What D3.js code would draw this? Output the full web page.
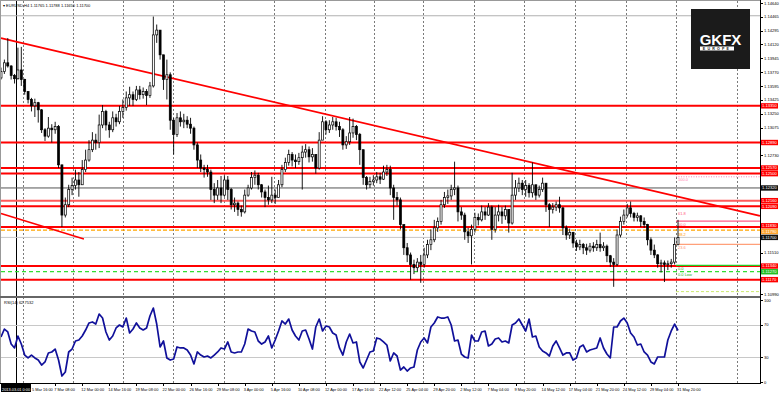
<!DOCTYPE html>
<meta charset="utf-8">
<style>
  body { margin: 0; background: #fff; }
  svg { display: block; font-family: 'Liberation Sans', Arial, sans-serif; }
</style>
<script src="https://d3js.org/d3.v7.min.js"></script>
<body>
<svg id="chart" width="780" height="395"></svg>
<script>
// EURUSD H4, one candle per 8 hours (2 H4 bars)
var firstOpen = 1.1370;
var closes = [
  1.1378, 1.1389, 1.1385, 1.1373, 1.1369, 1.1380, 1.1368, 1.1353, 1.1343, 1.1335,
  1.1339, 1.1330, 1.1305, 1.1297, 1.1307, 1.1305, 1.1309, 1.1261, 1.1198, 1.1211,
  1.1230, 1.1235, 1.1242, 1.1236, 1.1255, 1.1267, 1.1280, 1.1292, 1.1289, 1.1311,
  1.1328, 1.1311, 1.1305, 1.1320, 1.1315, 1.1328, 1.1333, 1.1345, 1.1349, 1.1343,
  1.1355, 1.1349, 1.1353, 1.1348, 1.1360, 1.1424, 1.1430, 1.1399, 1.1368, 1.1374,
  1.1317, 1.1299, 1.1320, 1.1315, 1.1317, 1.1312, 1.1307, 1.1286, 1.1267, 1.1257,
  1.1255, 1.1252, 1.1230, 1.1223, 1.1232, 1.1223, 1.1242, 1.1230, 1.1211, 1.1213,
  1.1205, 1.1202, 1.1223, 1.1232, 1.1245, 1.1248, 1.1236, 1.1227, 1.1220, 1.1217,
  1.1223, 1.1220, 1.1236, 1.1255, 1.1264, 1.1274, 1.1267, 1.1265, 1.1270, 1.1277,
  1.1280, 1.1271, 1.1274, 1.1257, 1.1292, 1.1315, 1.1305, 1.1311, 1.1315, 1.1309,
  1.1305, 1.1286, 1.1290, 1.1301, 1.1309, 1.1299, 1.1280, 1.1245, 1.1236, 1.1240,
  1.1242, 1.1246, 1.1243, 1.1252, 1.1255, 1.1232, 1.1220, 1.1217, 1.1186, 1.1157,
  1.1148, 1.1136, 1.1132, 1.1139, 1.1136, 1.1148, 1.1161, 1.1167, 1.1182, 1.1190,
  1.1211, 1.1220, 1.1222, 1.1230, 1.1232, 1.1202, 1.1198, 1.1177, 1.1172, 1.1180,
  1.1195, 1.1192, 1.1202, 1.1198, 1.1208, 1.1180, 1.1198, 1.1202, 1.1197, 1.1205,
  1.1188, 1.1223, 1.1232, 1.1238, 1.1230, 1.1235, 1.1226, 1.1236, 1.1223, 1.1230,
  1.1238, 1.1211, 1.1205, 1.1208, 1.1211, 1.1207, 1.1182, 1.1173, 1.1176, 1.1163,
  1.1158, 1.1161, 1.1157, 1.1154, 1.1159, 1.1157, 1.1161, 1.1157, 1.1159, 1.1147,
  1.1139, 1.1136, 1.1173, 1.1190, 1.1198, 1.1207, 1.1200, 1.1195, 1.1197, 1.1190,
  1.1186, 1.1167, 1.1154, 1.1148, 1.1137, 1.1138, 1.1136, 1.1137, 1.1139, 1.1161, 1.1170
];
var highs = [
  1.1383, 1.1393, 1.1420, 1.1386, 1.1375, 1.1408, 1.1409, 1.1369, 1.1353, 1.1345,
  1.1344, 1.1340, 1.1331, 1.1307, 1.1321, 1.1312, 1.1315, 1.1311, 1.1261, 1.1220,
  1.1236, 1.1245, 1.1255, 1.1252, 1.1267, 1.1280, 1.1292, 1.1302, 1.1300, 1.1324,
  1.1336, 1.1330, 1.1315, 1.1328, 1.1325, 1.1335, 1.1343, 1.1353, 1.1359, 1.1353,
  1.1360, 1.1360, 1.1358, 1.1356, 1.1365, 1.1447, 1.1437, 1.1430, 1.1399, 1.1393,
  1.1377, 1.1320, 1.1326, 1.1328, 1.1325, 1.1322, 1.1320, 1.1309, 1.1289, 1.1274,
  1.1261, 1.1261, 1.1255, 1.1238, 1.1242, 1.1247, 1.1248, 1.1247, 1.1232, 1.1220,
  1.1215, 1.1210, 1.1230, 1.1236, 1.1252, 1.1254, 1.1251, 1.1237, 1.1230, 1.1235,
  1.1246, 1.1230, 1.1242, 1.1261, 1.1270, 1.1280, 1.1277, 1.1274, 1.1276, 1.1285,
  1.1287, 1.1284, 1.1282, 1.1274, 1.1302, 1.1322, 1.1317, 1.1317, 1.1321, 1.1320,
  1.1315, 1.1307, 1.1297, 1.1321, 1.1319, 1.1311, 1.1301, 1.1280, 1.1247, 1.1246,
  1.1248, 1.1252, 1.1251, 1.1260, 1.1261, 1.1260, 1.1236, 1.1227, 1.1220, 1.1186,
  1.1163, 1.1151, 1.1142, 1.1144, 1.1148, 1.1157, 1.1167, 1.1180, 1.1192, 1.1195,
  1.1217, 1.1227, 1.1230, 1.1236, 1.1265, 1.1235, 1.1208, 1.1201, 1.1182, 1.1186,
  1.1201, 1.1200, 1.1210, 1.1208, 1.1213, 1.1210, 1.1208, 1.1211, 1.1208, 1.1210,
  1.1205, 1.1251, 1.1242, 1.1245, 1.1242, 1.1242, 1.1238, 1.1264, 1.1236, 1.1235,
  1.1245, 1.1238, 1.1213, 1.1213, 1.1215, 1.1221, 1.1208, 1.1185, 1.1181, 1.1177,
  1.1167, 1.1167, 1.1163, 1.1162, 1.1163, 1.1164, 1.1167, 1.1176, 1.1164, 1.1161,
  1.1148, 1.1144, 1.1180, 1.1196, 1.1205, 1.1212, 1.1215, 1.1202, 1.1201, 1.1198,
  1.1195, 1.1187, 1.1170, 1.1161, 1.1149, 1.1142, 1.1141, 1.1141, 1.1143, 1.1170, 1.1192
];
var lows = [
  1.1368, 1.1375, 1.1383, 1.1368, 1.1363, 1.1368, 1.1360, 1.1349, 1.1338, 1.1328,
  1.1321, 1.1314, 1.1301, 1.1291, 1.1295, 1.1289, 1.1300, 1.1257, 1.1183, 1.1195,
  1.1208, 1.1223, 1.1230, 1.1221, 1.1242, 1.1252, 1.1265, 1.1277, 1.1280, 1.1282,
  1.1307, 1.1304, 1.1295, 1.1302, 1.1309, 1.1312, 1.1320, 1.1329, 1.1335, 1.1335,
  1.1341, 1.1343, 1.1344, 1.1336, 1.1345, 1.1358, 1.1414, 1.1393, 1.1355, 1.1343,
  1.1305, 1.1274, 1.1296, 1.1309, 1.1307, 1.1307, 1.1300, 1.1280, 1.1257, 1.1252,
  1.1245, 1.1246, 1.1217, 1.1213, 1.1217, 1.1213, 1.1221, 1.1217, 1.1205, 1.1202,
  1.1197, 1.1196, 1.1200, 1.1221, 1.1230, 1.1236, 1.1230, 1.1220, 1.1208, 1.1211,
  1.1213, 1.1212, 1.1220, 1.1233, 1.1252, 1.1260, 1.1259, 1.1257, 1.1261, 1.1230,
  1.1270, 1.1264, 1.1265, 1.1250, 1.1255, 1.1292, 1.1299, 1.1301, 1.1305, 1.1304,
  1.1296, 1.1280, 1.1281, 1.1286, 1.1295, 1.1292, 1.1261, 1.1236, 1.1230, 1.1232,
  1.1235, 1.1238, 1.1237, 1.1242, 1.1247, 1.1223, 1.1192, 1.1210, 1.1180, 1.1148,
  1.1139, 1.1117, 1.1124, 1.1127, 1.1113, 1.1132, 1.1144, 1.1154, 1.1164, 1.1177,
  1.1186, 1.1207, 1.1212, 1.1217, 1.1223, 1.1190, 1.1192, 1.1167, 1.1163, 1.1136,
  1.1176, 1.1185, 1.1190, 1.1192, 1.1197, 1.1167, 1.1176, 1.1190, 1.1187, 1.1192,
  1.1176, 1.1186, 1.1217, 1.1227, 1.1223, 1.1221, 1.1220, 1.1220, 1.1217, 1.1220,
  1.1227, 1.1202, 1.1183, 1.1200, 1.1203, 1.1201, 1.1173, 1.1167, 1.1168, 1.1157,
  1.1153, 1.1154, 1.1149, 1.1148, 1.1151, 1.1152, 1.1153, 1.1152, 1.1153, 1.1139,
  1.1133, 1.1108, 1.1134, 1.1170, 1.1186, 1.1195, 1.1195, 1.1190, 1.1190, 1.1183,
  1.1182, 1.1160, 1.1148, 1.1144, 1.1132, 1.1126, 1.1114, 1.1129, 1.1132, 1.1136, 1.1160
];
var rsi = [
  54.9, 64.6, 61.0, 46.3, 41.5, 56.1, 46.3, 32.9, 29.3, 32.9,
  29.3, 26.8, 20.7, 24.4, 35.4, 36.6, 40.2, 26.8, 7.3, 12.2,
  36.6, 40.2, 50.0, 51.2, 56.1, 63.4, 72.0, 73.2, 70.7, 82.9,
  78.0, 61.0, 51.2, 56.1, 65.9, 69.5, 67.1, 78.0, 59.8, 64.6,
  72.0, 65.9, 63.4, 65.9, 80.5, 90.2, 70.7, 42.7, 50.0, 29.3,
  26.8, 28.0, 42.7, 41.5, 41.5, 39.0, 32.9, 22.0, 36.6, 32.9,
  30.5, 31.7, 29.3, 32.9, 36.6, 41.5, 40.2, 48.8, 36.6, 35.4,
  36.6, 36.6, 46.3, 64.6, 62.2, 61.0, 50.0, 46.3, 48.8, 56.1,
  41.5, 51.2, 62.2, 74.4, 70.7, 76.8, 63.4, 56.1, 51.2, 62.2,
  63.4, 52.4, 40.2, 67.1, 76.8, 62.2, 68.3, 67.1, 59.8, 57.3,
  41.5, 32.9, 48.8, 58.5, 47.6, 48.8, 24.4, 17.1, 26.8, 36.6,
  37.8, 53.7, 52.4, 48.8, 45.1, 25.6, 35.4, 31.7, 14.6, 18.3,
  13.4, 17.1, 18.3, 39.0, 48.8, 53.7, 47.6, 67.1, 72.0, 79.3,
  78.0, 78.0, 79.3, 69.5, 50.0, 51.2, 34.1, 30.5, 29.3, 57.3,
  50.0, 50.0, 61.0, 62.2, 43.9, 46.3, 52.4, 53.7, 48.8, 50.0,
  47.6, 69.5, 72.0, 76.8, 69.5, 62.2, 76.8, 54.9, 56.1, 42.7,
  37.8, 35.4, 31.7, 43.9, 50.0, 41.5, 32.9, 35.4, 35.4, 26.8,
  29.3, 42.7, 45.1, 36.6, 39.0, 40.2, 41.5, 53.7, 41.5, 34.1,
  29.3, 67.1, 67.1, 74.4, 78.0, 72.0, 59.8, 54.9, 45.1, 46.3,
  36.6, 32.9, 24.4, 22.0, 30.5, 30.5, 30.5, 51.2, 62.2, 70.7, 62.8
];

var timeLabels = ["2013.03.01 0:00", "5 Mar 16:00", "7 Mar 08:00", "12 Mar 00:00", "14 Mar 16:00",
  "19 Mar 08:00", "22 Mar 00:00", "26 Mar 16:00", "29 Mar 08:00", "3 Apr 00:00", "5 Apr 16:00",
  "10 Apr 08:00", "12 Apr 00:00", "17 Apr 16:00", "22 Apr 12:00", "25 Apr 04:00", "29 Apr 20:00",
  "2 May 12:00", "7 May 04:00", "9 May 20:00", "14 May 12:00", "17 May 04:00", "21 May 20:00",
  "24 May 12:00", "29 May 04:00", "31 May 20:00"];
var priceTicks = [1.14640, 1.14465, 1.14295, 1.14120, 1.13945, 1.13770, 1.13595, 1.13425, 1.13250,
  1.13075, 1.12900, 1.12730, 1.12555, 1.12380, 1.12205, 1.12035, 1.11860, 1.11685, 1.11510,
  1.11340, 1.11165, 1.10990];
var rsiTicks = [100, 70, 30, 0];

var redLevels = [1.1335, 1.1289, 1.1257, 1.1250, 1.1216, 1.1209, 1.1183, 1.1134, 1.1117];
var grayLevel = 1.1232, orangeLevel = 1.1179, greenLevel = 1.1127, topLevel = 1.1448, extraLevel = 1.1102;
var fibLow = 1.1135, fibHigh = 1.1246, fibStart = 199.4;
var fibLevels = [0, 23.6, 38.2, 50, 61.8, 100];
var upperTrend = [[0, 1.1420], [200, 1.1221]];
var lowerTrend = [[0, 1.1200], [24.5, 1.1168]];
var weekGrid = [6.4, 21.2, 36.0, 50.8, 65.9, 80.6, 95.7, 110.2, 124.7, 139.7, 154.5, 169.6, 184.6, 199.4, 217.4];
var markerBar = 4.4;

var svg = d3.select("#chart");
var right = 760, mainBottom = 296, rsiBottom = 383;

var x = d3.scaleLinear().domain([0, 200]).range([1, 678]);
var y = d3.scaleLinear().domain([1.10990, 1.14640]).range([294, 3]);
var yr = d3.scaleLinear().domain([0, 100]).range([382, 300]);
var fmt = d3.format(".5f");
var px = function(v) { return Math.round(v) + 0.5; };

svg.append("rect").attr("width", 780).attr("height", 395).attr("fill", "#fff");

// vertical dotted separators, both panels
svg.append("g").selectAll("line").data(weekGrid).join("line")
  .attr("x1", d => px(x(d))).attr("x2", d => px(x(d)))
  .attr("y1", 1).attr("y2", rsiBottom)
  .attr("stroke", "#7a7a7a").attr("stroke-dasharray", "2,2");
svg.append("line")
  .attr("x1", px(x(markerBar))).attr("x2", px(x(markerBar)))
  .attr("y1", 1).attr("y2", rsiBottom).attr("stroke", "#000");

// horizontal levels
var lv = svg.append("g");
function hline(price, color, w, dash, x1) {
  lv.append("line")
    .attr("x1", x1 || 1).attr("x2", right)
    .attr("y1", y(price)).attr("y2", y(price))
    .attr("stroke", color).attr("stroke-width", w)
    .attr("stroke-dasharray", dash || null);
}
hline(topLevel, "#b0b0b0", 1);
hline(grayLevel, "#555", 1);
hline(closes[closes.length - 1], "#c8c8c8", 1);
redLevels.forEach(function(p, i) { hline(p, i === 4 ? "#ff5a5a" : "#ff0000", 2); });
hline(orangeLevel, "#ffa500", 1.2, "4,2");
hline(greenLevel, "#33dd33", 1.2, "4,3");

// trendlines
function trend(pts, xa, xb, w) {
  var t = d3.scaleLinear().domain([pts[0][0], pts[1][0]]).range([pts[0][1], pts[1][1]]);
  svg.append("line")
    .attr("x1", x(xa)).attr("y1", y(t(xa)))
    .attr("x2", x(xb)).attr("y2", y(t(xb)))
    .attr("stroke", "#ff0000").attr("stroke-width", w);
}
trend(upperTrend, 0, x.invert(right), 1.8);
trend(lowerTrend, 0, lowerTrend[1][0], 1.5);

// fibonacci retracement
var fib = svg.append("g");
var fibPrice = function(l) { return fibLow + (fibHigh - fibLow) * l / 100; };
var fibStyle = {0: ["#22cc22", 1.2, null], 23.6: ["#ffa07a", 1.2, null], 50: ["#ff5c8a", 1.2, null], 100: ["#ff80b0", 1, "1,1.5"]};
var fibText = {0: "#22aa22", 23.6: "#ff9070", 38.2: "#ff9900", 50: "#ff5c8a", 61.8: "#ff6080", 100: "#ff80b0"};
fibLevels.forEach(function(l) {
  var s = fibStyle[l];
  if (s) {
    fib.append("line").attr("x1", x(fibStart)).attr("x2", right)
      .attr("y1", y(fibPrice(l))).attr("y2", y(fibPrice(l)))
      .attr("stroke", s[0]).attr("stroke-width", s[1]).attr("stroke-dasharray", s[2]);
  }
  fib.append("text").attr("x", x(fibStart) + 2).attr("y", y(fibPrice(l)) + 4.5)
    .attr("font-size", 4).attr("fill", fibText[l]).text(d3.format(".1f")(l));
});
fib.append("line").attr("x1", x(fibStart)).attr("x2", right)
  .attr("y1", y(extraLevel)).attr("y2", y(extraLevel))
  .attr("stroke", "#cce870").attr("stroke-dasharray", "3,2");
fib.append("text").attr("x", x(fibStart) + 2).attr("y", y(fibLow) + 11)
  .attr("font-size", 4).attr("fill", "#22aa22").text("0.0 Low");

// candles
var opens = closes.map(function(c, i) { return i ? closes[i - 1] : firstOpen; });
var cg = svg.append("g");
closes.forEach(function(c, i) {
  var cx = x(i), o = opens[i];
  var hi = Math.max(highs[i], o, c), lo = Math.min(lows[i], o, c);
  cg.append("line").attr("x1", cx).attr("x2", cx)
    .attr("y1", y(hi)).attr("y2", y(lo))
    .attr("stroke", "#000").attr("stroke-width", 0.9);
  var top = y(Math.max(o, c)), h = Math.max(1, Math.abs(y(o) - y(c)));
  cg.append("rect").attr("x", cx - 1).attr("y", top).attr("width", 2).attr("height", h)
    .attr("fill", c >= o ? "#fff" : "#000").attr("stroke", "#000").attr("stroke-width", 0.7);
});

// RSI panel
svg.append("g").selectAll("line").data([70, 30]).join("line")
  .attr("x1", 1).attr("x2", right).attr("y1", d => px(yr(d))).attr("y2", d => px(yr(d)))
  .attr("stroke", "#c8c8c8");
svg.append("path").datum(rsi)
  .attr("d", d3.line().x((d, i) => x(i)).y(d => yr(d)))
  .attr("fill", "none").attr("stroke", "#10109a").attr("stroke-width", 1.7)
  .attr("stroke-linejoin", "round");
svg.append("text").attr("x", 4).attr("y", 304).attr("font-size", 4).attr("fill", "#000")
  .text("RSI(14) " + d3.format(".4f")(62.7532));

// frames
var fr = svg.append("g").attr("stroke", "#000").attr("shape-rendering", "crispEdges");
fr.append("line").attr("x1", 0.5).attr("x2", right + 0.5).attr("y1", 0.5).attr("y2", 0.5).attr("stroke", "#999");
fr.append("line").attr("x1", 0.5).attr("x2", 0.5).attr("y1", 0).attr("y2", rsiBottom).attr("stroke", "#999");
fr.append("line").attr("x1", 0).attr("x2", right).attr("y1", mainBottom + 0.5).attr("y2", mainBottom + 0.5).attr("stroke", "#666").attr("stroke-width", 2);
fr.append("line").attr("x1", 0).attr("x2", right + 1).attr("y1", rsiBottom + 0.5).attr("y2", rsiBottom + 0.5);
fr.append("line").attr("x1", right + 0.5).attr("x2", right + 0.5).attr("y1", 0).attr("y2", rsiBottom + 1);

// title
svg.append("text").attr("x", 3).attr("y", 6.5).attr("font-size", 4).attr("fill", "#000")
  .text("\u25BE EURUSD,H4  1.11765 1.11788 1.11650 " + fmt(closes[closes.length - 1]));

// right price axis: coloured price tags, nudged apart where they crowd
var tags = [];
redLevels.forEach(function(p) { tags.push({p: p, bg: "#ff0000"}); });
tags.push({p: grayLevel, bg: "#111"}, {p: orangeLevel, bg: "#ffa530"},
  {p: closes[closes.length - 1], bg: "#111"}, {p: greenLevel, bg: "#22c022"});
tags.forEach(function(t) { t.y = y(t.p); });
tags.sort(function(a, b) { return a.y - b.y; });
var tagH = 5.4;
for (var k = 0; k < 6; k++) {
  for (var j = 1; j < tags.length; j++) {
    var gap = tags[j].y - tags[j - 1].y;
    if (gap < tagH + 0.3) {
      var d = (tagH + 0.3 - gap) / 2;
      tags[j - 1].y -= d; tags[j].y += d;
    }
  }
}
var ax = svg.append("g").attr("font-size", 4.1);
priceTicks.forEach(function(p) {
  var yy = y(p);
  if (tags.some(t => Math.abs(t.y - yy) < 5.6)) return;
  ax.append("line").attr("x1", right).attr("x2", right + 3).attr("y1", px(yy)).attr("y2", px(yy)).attr("stroke", "#000");
  ax.append("text").attr("x", right + 4).attr("y", yy + 1.5).attr("fill", "#000").text(fmt(p));
});
tags.forEach(function(t) {
  ax.append("rect").attr("x", right + 1).attr("y", t.y - tagH / 2).attr("width", 17).attr("height", tagH).attr("fill", t.bg);
  ax.append("text").attr("x", right + 2).attr("y", t.y + 1.4).attr("fill", "#fff").text(fmt(t.p));
});
rsiTicks.forEach(function(v) {
  ax.append("line").attr("x1", right).attr("x2", right + 3).attr("y1", px(yr(v))).attr("y2", px(yr(v))).attr("stroke", "#000");
  ax.append("text").attr("x", right + 4).attr("y", yr(v) + 1.5).attr("fill", "#000").text(v);
});

// time axis
var ta = svg.append("g").attr("font-size", 3.9);
timeLabels.forEach(function(t, n) {
  var bx = x(n * 8);
  if (n === 0) {
    ta.append("rect").attr("x", 1).attr("y", 384).attr("width", 30).attr("height", 8).attr("fill", "#000");
    ta.append("text").attr("x", 2).attr("y", 390.5).attr("fill", "#fff").text(t);
    return;
  }
  ta.append("line").attr("x1", px(bx)).attr("x2", px(bx)).attr("y1", rsiBottom).attr("y2", rsiBottom + 3).attr("stroke", "#000");
  ta.append("text").attr("x", Math.max(bx - 1, 32)).attr("y", 390.5).attr("fill", "#000").text(t);
});

// logo
var logo = svg.append("g");
logo.append("rect").attr("x", 691).attr("y", 9).attr("width", 59).attr("height", 60).attr("fill", "#1b1b1b");
logo.append("text").attr("x", 720.5).attr("y", 45).attr("text-anchor", "middle")
  .attr("font-size", 15).attr("font-weight", "bold").attr("fill", "#fff").text("GKFX");
logo.append("rect").attr("x", 700).attr("y", 46.5).attr("width", 34).attr("height", 4).attr("fill", "#fff");
logo.append("text").attr("x", 717).attr("y", 49.9).attr("text-anchor", "middle")
  .attr("font-size", 3.6).attr("font-weight", "bold").attr("letter-spacing", 2.2).attr("fill", "#1b1b1b").text("EUROPE");
</script>
</body>
